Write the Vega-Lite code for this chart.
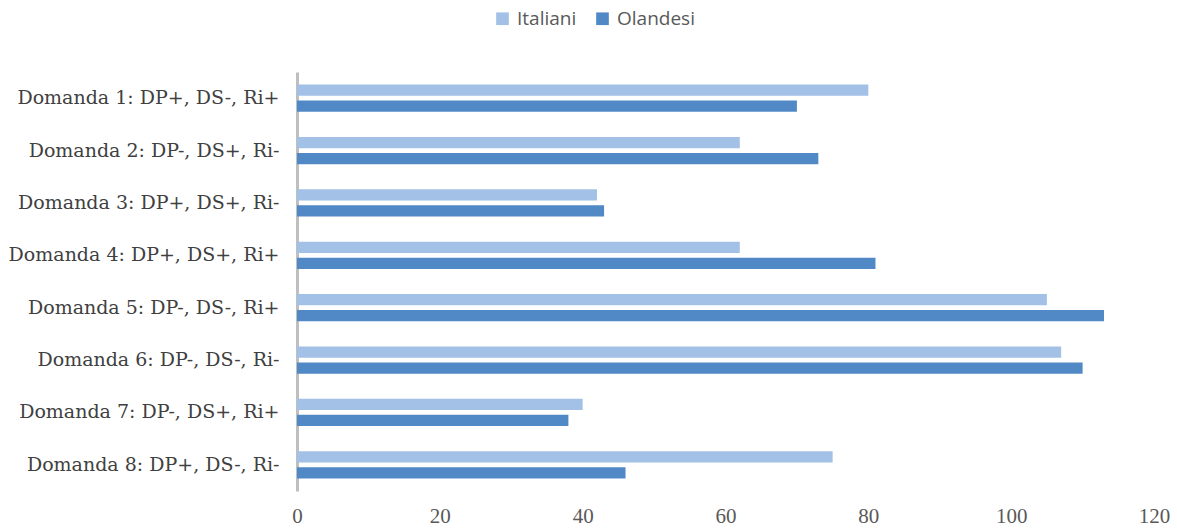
{
  "$schema": "https://vega.github.io/schema/vega-lite/v6.json",
  "autosize": {"type": "none"},
  "padding": {"left": 297, "top": 72, "right": 23, "bottom": 40},
  "width": 857,
  "height": 419,
  "background": "white",
  "data": {
    "values": [
      {"q": "Domanda 1: DP+, DS-, Ri+", "s": "Italiani", "v": 80},
      {"q": "Domanda 1: DP+, DS-, Ri+", "s": "Olandesi", "v": 70},
      {"q": "Domanda 2: DP-, DS+, Ri-", "s": "Italiani", "v": 62},
      {"q": "Domanda 2: DP-, DS+, Ri-", "s": "Olandesi", "v": 73},
      {"q": "Domanda 3: DP+, DS+, Ri-", "s": "Italiani", "v": 42},
      {"q": "Domanda 3: DP+, DS+, Ri-", "s": "Olandesi", "v": 43},
      {"q": "Domanda 4: DP+, DS+, Ri+", "s": "Italiani", "v": 62},
      {"q": "Domanda 4: DP+, DS+, Ri+", "s": "Olandesi", "v": 81},
      {"q": "Domanda 5: DP-, DS-, Ri+", "s": "Italiani", "v": 105},
      {"q": "Domanda 5: DP-, DS-, Ri+", "s": "Olandesi", "v": 113},
      {"q": "Domanda 6: DP-, DS-, Ri-", "s": "Italiani", "v": 107},
      {"q": "Domanda 6: DP-, DS-, Ri-", "s": "Olandesi", "v": 110},
      {"q": "Domanda 7: DP-, DS+, Ri+", "s": "Italiani", "v": 40},
      {"q": "Domanda 7: DP-, DS+, Ri+", "s": "Olandesi", "v": 38},
      {"q": "Domanda 8: DP+, DS-, Ri-", "s": "Italiani", "v": 75},
      {"q": "Domanda 8: DP+, DS-, Ri-", "s": "Olandesi", "v": 46}
    ]
  },
  "mark": {"type": "bar"},
  "encoding": {
    "y": {
      "field": "q", "type": "nominal", "sort": null,
      "scale": {"paddingInner": 0.48, "paddingOuter": 0.24},
      "axis": {
        "title": null, "ticks": false, "domain": true, "domainColor": "#bfbfbf", "domainWidth": 3,
        "labelFont": "DejaVu Serif", "labelFontSize": 19, "labelColor": "#404040", "labelPadding": 18,
        "labelLimit": 400
      }
    },
    "yOffset": {"field": "s", "type": "nominal", "scale": {"paddingInner": 0.3}},
    "x": {
      "field": "v", "type": "quantitative",
      "scale": {"domain": [0, 120], "nice": false},
      "axis": {
        "title": null, "values": [0, 20, 40, 60, 80, 100, 120], "grid": false, "ticks": false, "domain": false,
        "labelFont": "Liberation Serif", "labelFontSize": 21, "labelColor": "#595959", "labelPadding": 14,
        "labelFlush": false
      }
    },
    "color": {
      "field": "s", "type": "nominal",
      "scale": {"domain": ["Italiani", "Olandesi"], "range": ["#a3c0e6", "#5089c6"]},
      "legend": {
        "title": null, "orient": "none", "direction": "horizontal", "legendX": 196, "legendY": -63,
        "symbolType": "square", "symbolSize": 160, "symbolStrokeWidth": 0,
        "labelFont": "Open Sans", "labelFontSize": 19, "labelColor": "#595959", "columnPadding": 16, "labelOffset": 5
      }
    }
  },
  "config": {"view": {"stroke": null}}
}
